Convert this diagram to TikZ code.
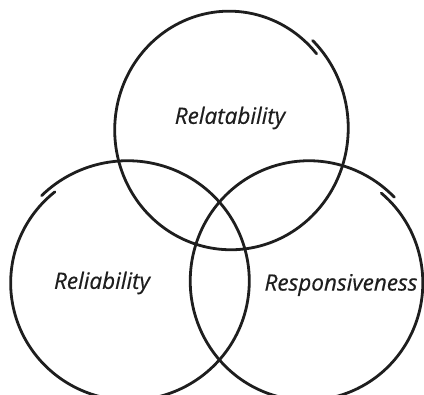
\documentclass[tikz,border=0pt]{standalone}
\usepackage{fontspec}
\setmainfont{Open Sans}
\newfontfamily\handfont{Open Sans}[ItalicFeatures={FakeBold=0.5}]
\usetikzlibrary{positioning}
\definecolor{ink}{HTML}{1E1E1E}

% hand drawn ring: center, x radius, y radius, start angle, radius drift
\newcommand{\sketchring}[5]{%
  \draw[ring, shift={(#1)}] plot[domain=0:366, samples=240]
    ({(#2+#5*(1-\x/183))*cos(#4-\x)}, {(#3+#5*(1-\x/183))*sin(#4-\x)});}

\begin{document}
\begin{tikzpicture}[x=1pt, y=1pt]
    \tikzstyle{ring} = [line width=2.8pt, draw=ink, line cap=round]
    \tikzstyle{word} = [font=\handfont\fontsize{22.5}{26}\selectfont\itshape, text=ink, inner sep=0pt]

    \useasboundingbox (0,0) rectangle (424,395);

    \coordinate (top) at (230,266);
    \coordinate (left) at (128.5,113);
    \coordinate (right) at (308,113);

    \sketchring{top}{116}{120}{46}{3}
    \sketchring{left}{120}{119}{135}{3}
    \sketchring{right}{117}{119}{50}{-3}

    \node[word] (relat) at (230,277) {Relatability};
    \node[word] (relia) at (102,112) {Reliability};
    \node[word] (respo) at (341,110) {Responsiveness};
\end{tikzpicture}
\end{document}
